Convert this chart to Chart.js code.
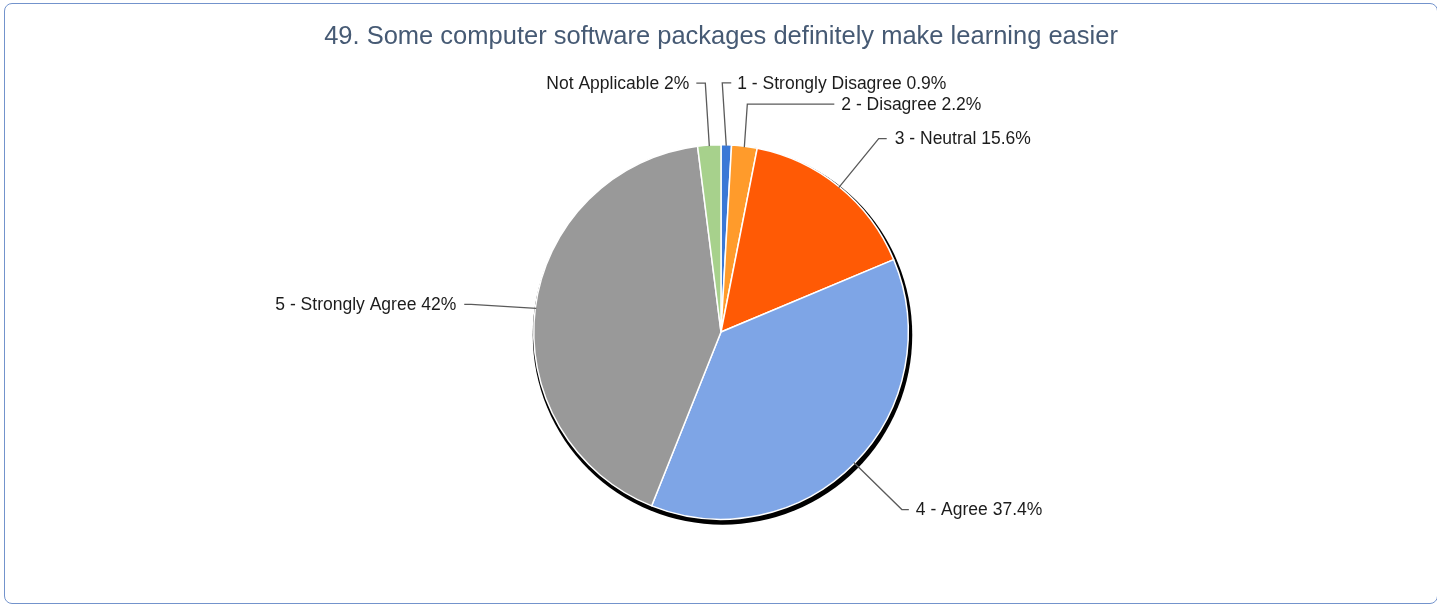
<!DOCTYPE html>
<html>
<head>
<meta charset="utf-8">
<script src="https://cdn.jsdelivr.net/npm/chart.js@4.4.1/dist/chart.umd.min.js"></script>
<style>
  html, body { margin: 0; padding: 0; background: #fff; overflow: hidden; }
  #wrap { position: relative; width: 1437px; height: 604px; }
  #frame {
    position: absolute; left: 4px; top: 3px; width: 1432px; height: 599px;
    border: 1.5px solid #7393cc; border-radius: 8px; pointer-events: none;
  }
  canvas { position: absolute; left: 0; top: 0; }
</style>
</head>
<body>
<div id="wrap">
  <canvas id="chart" width="1437" height="604"></canvas>
  <div id="frame"></div>
</div>
<script>
// données du graphique
const categories = ['1 - Strongly Disagree', '2 - Disagree', '3 - Neutral', '4 - Agree', '5 - Strongly Agree', 'Not Applicable'];
const percentages = [0.9, 2.2, 15.6, 37.4, 42, 2];
const valueLabels = ['0.9%', '2.2%', '15.6%', '37.4%', '42%', '2%'];
const sliceColors = ['#3a78d6', '#ff9b2b', '#ff5a05', '#7ea5e6', '#999999', '#a7d18c'];

// placement des étiquettes : coude relatif au bord de la part, puis petit trait horizontal
const labelLayout = [
  { dx: -4, dy: -63, tail: 9, gap: 6 },
  { dx: 3, dy: -43, tail: 87, gap: 7 },
  { dx: 40, dy: -49, tail: 8, gap: 8 },
  { dx: 48, dy: 47, tail: 7, gap: 7 },
  { dx: -65, dy: -4, tail: -7, gap: 8 },
  { dx: -4, dy: -63, tail: -9, gap: 7 }
];

// ombre noire derrière le camembert
const shadowPlugin = {
  id: 'pieShadow',
  beforeDatasetsDraw(chart) {
    const arc = chart.getDatasetMeta(0).data[0];
    if (!arc) return;
    const ctx = chart.ctx;
    ctx.save();
    ctx.beginPath();
    ctx.arc(arc.x + 1.5, arc.y + 3, arc.outerRadius + 2.5, 0, Math.PI * 2);
    ctx.fillStyle = '#000';
    ctx.fill();
    ctx.restore();
  }
};

// étiquettes avec lignes de rappel
const leaderPlugin = {
  id: 'leaderLabels',
  afterDatasetsDraw(chart) {
    const ctx = chart.ctx;
    const meta = chart.getDatasetMeta(0);
    ctx.save();
    ctx.font = '17.5px "Liberation Sans", Arial, sans-serif';
    ctx.textBaseline = 'middle';
    meta.data.forEach((arc, i) => {
      const mid = (arc.startAngle + arc.endAngle) / 2;
      const r = arc.outerRadius - 1;
      const x0 = arc.x + Math.cos(mid) * r;
      const y0 = arc.y + Math.sin(mid) * r;
      const lay = labelLayout[i];
      const ex = x0 + lay.dx;
      const ey = y0 + lay.dy;
      const tx = ex + lay.tail;
      ctx.beginPath();
      ctx.moveTo(x0, y0);
      ctx.lineTo(ex, ey);
      ctx.lineTo(tx, ey);
      ctx.strokeStyle = '#5a5a5a';
      ctx.lineWidth = 1.3;
      ctx.stroke();
      const right = lay.tail >= 0;
      ctx.textAlign = right ? 'left' : 'right';
      ctx.fillStyle = '#1c1c1c';
      const text = categories[i] + ' ' + valueLabels[i];
      ctx.fillText(text, right ? tx + lay.gap : tx - lay.gap, ey + 1);
    });
    ctx.restore();
  }
};

const chartData = {
  labels: categories,
  datasets: [{
    data: percentages,
    backgroundColor: sliceColors,
    borderColor: '#ffffff',
    borderWidth: 1.5
  }]
};

new Chart(document.getElementById('chart'), {
  type: 'pie',
  data: chartData,
  options: {
    responsive: false,
    animation: false,
    layout: { padding: { top: 0, bottom: 84, left: 5, right: 0 } },
    plugins: {
      legend: { display: false },
      tooltip: { enabled: false },
      title: {
        display: true,
        text: '49. Some computer software packages definitely make learning easier',
        color: '#465a74',
        font: { family: '"Liberation Sans", Arial, sans-serif', size: 25.5, weight: 'normal', lineHeight: 1.2 },
        padding: { top: 22, bottom: 91.4 }
      }
    }
  },
  plugins: [shadowPlugin, leaderPlugin]
});
</script>
</body>
</html>
